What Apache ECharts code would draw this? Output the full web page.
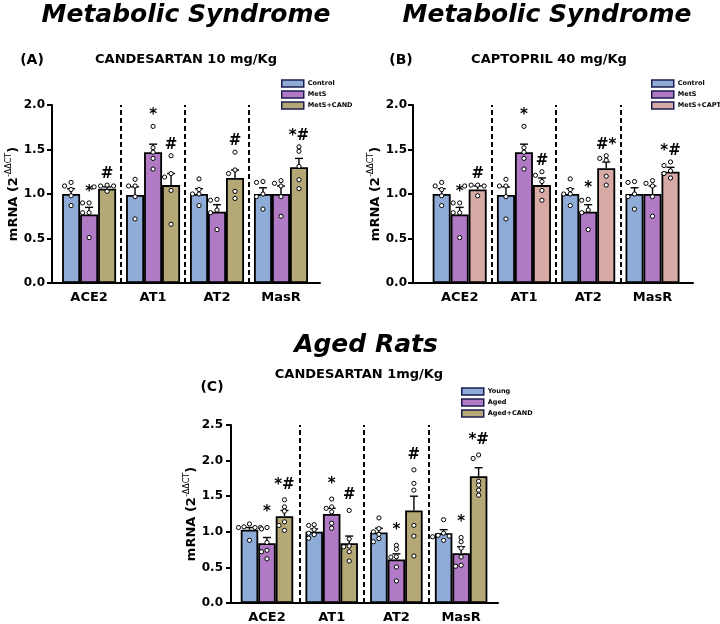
<!DOCTYPE html>
<html><head><meta charset="utf-8">
<script src="https://cdn.jsdelivr.net/npm/echarts@6/dist/echarts.min.js"></script>
<style>html,body{margin:0;padding:0;background:#fff}#c{width:720px;height:624px}</style>
</head><body><div id="c"></div>
<script>
// ---------------- DATA ----------------
const categories = ['ACE2', 'AT1', 'AT2', 'MasR'];

// Panel A / B (Metabolic syndrome)
const msControlMean = [1.00, 0.99, 1.00, 1.00];
const msControlSem  = [0.06, 0.09, 0.06, 0.07];
const msControlPts  = [[1.13, 1.09, 1.05, 0.98, 0.87], [1.09, 1.165, 1.09, 0.97, 0.72], [1.17, 1.05, 1.00, 1.00, 0.87], [1.13, 1.14, 1.00, 0.97, 0.83]];
const msMetSMean = [0.77, 1.47, 0.80, 1.00];
const msMetSSem  = [0.08, 0.09, 0.08, 0.09];
const msMetSPts  = [[0.90, 0.90, 0.79, 0.79, 0.51], [1.76, 1.52, 1.47, 1.40, 1.28], [0.93, 0.94, 0.82, 0.79, 0.60], [1.15, 1.09, 1.12, 0.97, 0.75]];
const aCandMean = [1.06, 1.10, 1.18, 1.30];
const aCandSem  = [0.02, 0.13, 0.09, 0.10];
const aCandPts  = [[1.10, 1.09, 1.09, 1.08, 1.03], [1.43, 1.23, 1.19, 1.04, 0.66], [1.47, 1.27, 1.23, 1.03, 0.95], [1.53, 1.48, 1.31, 1.16, 1.06]];
const bCaptMean = [1.05, 1.10, 1.29, 1.25];
const bCaptSem  = [0.04, 0.08, 0.07, 0.05];
const bCaptPts  = [[1.10, 1.10, 1.09, 1.09, 0.98], [1.25, 1.21, 1.14, 1.04, 0.93], [1.43, 1.40, 1.38, 1.20, 1.10], [1.36, 1.32, 1.26, 1.23, 1.18]];
const aMetSAnn = ['*', '*', '', ''];
const aCandAnn = ['#', '#', '#', '*#'];
const bMetSAnn = ['*', '*', '*', ''];
const bCaptAnn = ['#', '#', '#*', '*#'];

// Panel C (Aged rats)
const cYoungMean = [1.03, 1.00, 0.99, 0.98];
const cYoungSem  = [0.03, 0.04, 0.06, 0.05];
const cYoungPts  = [[1.11, 1.07, 1.06, 1.06, 1.06, 0.88], [1.10, 1.09, 1.03, 0.98, 0.96, 0.91], [1.195, 1.045, 1.00, 0.965, 0.905, 0.86], [1.17, 0.98, 0.95, 0.94, 0.93, 0.88]];
const cAgedMean = [0.84, 1.25, 0.61, 0.70];
const cAgedSem  = [0.08, 0.08, 0.08, 0.09];
const cAgedPts  = [[1.06, 1.04, 0.85, 0.74, 0.72, 0.62], [1.46, 1.35, 1.33, 1.28, 1.12, 1.05], [0.81, 0.755, 0.65, 0.645, 0.506, 0.31], [0.92, 0.86, 0.77, 0.647, 0.516, 0.53]];
const cCandMean = [1.22, 0.84, 1.30, 1.78];
const cCandSem  = [0.08, 0.10, 0.20, 0.12];
const cCandPts  = [[1.45, 1.35, 1.29, 1.14, 1.09, 1.02], [1.30, 0.90, 0.80, 0.79, 0.72, 0.59], [1.87, 1.68, 1.585, 1.09, 0.94, 0.66], [2.08, 2.03, 1.71, 1.655, 1.585, 1.514]];
const cAgedAnn = ['*', '*', '*', '*'];
const cCandAnn = ['*#', '#', '#', '*#'];

const yMaxAB = 2.0, yMaxC = 2.5, yStep = 0.5;
const yName = '{a|mRNA (2}{b|-ΔΔCT}{a|)}';

// ---------------- STYLE ----------------
const F = '"DejaVu Sans", sans-serif';
const BLUE = '#8eacd7', PURPLE = '#b07ac4', OLIVE = '#b4a876', PINK = '#d8aaa6';

const panels = [
  { grid: {left: 52, top: 105, width: 268, height: 178}, xMin: -0.58, xMax: 3.61, yMax: yMaxAB,
    nameGap: 29, labelMargin: 7, legend: {left: 281, top: 79}, bw: 18, annOff: 11, step: 6.5,
    groups: [
      {name: 'Control', color: BLUE, mean: msControlMean, sem: msControlSem, pts: msControlPts, ann: null},
      {name: 'MetS', color: PURPLE, mean: msMetSMean, sem: msMetSSem, pts: msMetSPts, ann: aMetSAnn},
      {name: 'MetS+CAND', color: OLIVE, mean: aCandMean, sem: aCandSem, pts: aCandPts, ann: aCandAnn}
    ]},
  { grid: {left: 413, top: 105, width: 280, height: 178}, xMin: -0.726, xMax: 3.63, yMax: yMaxAB,
    nameGap: 17, labelMargin: 6, legend: {left: 651, top: 79}, bw: 18, annOff: 11, step: 6.5,
    groups: [
      {name: 'Control', color: BLUE, mean: msControlMean, sem: msControlSem, pts: msControlPts, ann: null},
      {name: 'MetS', color: PURPLE, mean: msMetSMean, sem: msMetSSem, pts: msMetSPts, ann: bMetSAnn},
      {name: 'MetS+CAPT', color: PINK, mean: bCaptMean, sem: bCaptSem, pts: bCaptPts, ann: bCaptAnn}
    ]},
  { grid: {left: 231, top: 425, width: 267, height: 178}, xMin: -0.556, xMax: 3.57, yMax: yMaxC,
    nameGap: 31, labelMargin: 8, legend: {left: 461, top: 387}, bw: 17.5, annOff: 15, step: 5.5,
    groups: [
      {name: 'Young', color: BLUE, mean: cYoungMean, sem: cYoungSem, pts: cYoungPts, ann: null},
      {name: 'Aged', color: PURPLE, mean: cAgedMean, sem: cAgedSem, pts: cAgedPts, ann: cAgedAnn},
      {name: 'Aged+CAND', color: OLIVE, mean: cCandMean, sem: cCandSem, pts: cCandPts, ann: cCandAnn}
    ]}
];

const MIN_D = 3.6, R = 2.1;

function overlaySeries(g, k, nSer, bw, grp, annOff, step) {
  return {
    type: 'custom', xAxisIndex: g, yAxisIndex: g, z: 10, silent: true, clip: false,
    encode: {x: 0, y: 1},
    data: grp.mean.map((m, i) => [i, m, grp.sem[i]]),
    renderItem: function (params, api) {
      const i = api.value(0), m = api.value(1), s = api.value(2);
      const base = api.coord([i, m]);
      const cx = base[0] + (k - (nSer - 1) / 2) * bw;
      const yTop = api.coord([i, m + s])[1];
      const ch = [];
      ch.push({type: 'line', shape: {x1: cx, y1: base[1], x2: cx, y2: yTop}, style: {stroke: '#000', lineWidth: 1.4}});
      ch.push({type: 'line', shape: {x1: cx - 4, y1: yTop, x2: cx + 4, y2: yTop}, style: {stroke: '#000', lineWidth: 1.4}});
      const ys = grp.pts[i].map(v => api.coord([i, v])[1]);
      const order = ys.map((y, j) => j).sort((a, b) => ys[a] - ys[b]);
      const placed = [];
      const cands = [0, -1, 1, -2, 2, -3, 3];
      order.forEach(j => {
        const y = ys[j];
        for (const c of cands) {
          const x = cx + c * step;
          if (!placed.some(p => Math.hypot(p[0] - x, p[1] - y) < MIN_D)) { placed.push([x, y]); break; }
        }
      });
      placed.forEach(p => ch.push({type: 'circle', shape: {cx: p[0], cy: p[1], r: R},
        style: {fill: '#fff', stroke: '#000', lineWidth: 1}}));
      if (grp.ann && grp.ann[i]) {
        const topY = Math.min(yTop, ...ys);
        ch.push({type: 'text', x: cx, y: topY - annOff,
          style: {text: grp.ann[i], font: 'bold 15px "DejaVu Sans"', fill: '#000',
                  align: 'center', verticalAlign: 'middle', textAlign: 'center', textVerticalAlign: 'middle'}});
      }
      return {type: 'group', children: ch};
    }
  };
}

const grids = [], xAxes = [], yAxes = [], series = [], legends = [];
panels.forEach((p, g) => {
  grids.push(Object.assign({containLabel: false}, p.grid));
  xAxes.push({
    gridIndex: g, type: 'value', min: p.xMin, max: p.xMax,
    axisLine: {show: true, onZero: false, lineStyle: {color: '#000', width: 2}},
    axisTick: {show: false}, splitLine: {show: false},
    axisLabel: {customValues: categories.map((c, i) => i), formatter: v => categories[Math.round(v)],
      margin: 8, color: '#000', fontSize: 13, fontWeight: 'bold', fontFamily: F}
  });
  yAxes.push({
    gridIndex: g, type: 'value', min: 0, max: p.yMax, interval: yStep,
    name: yName, nameLocation: 'middle', nameGap: p.nameGap, nameRotate: 90,
    nameTextStyle: {rich: {
      a: {fontSize: 13, fontWeight: 'bold', fontFamily: F, color: '#000', lineHeight: 15, verticalAlign: 'bottom'},
      b: {fontSize: 8, fontWeight: 'normal', fontFamily: F, color: '#000', lineHeight: 9, verticalAlign: 'top'}
    }},
    axisLine: {show: true, onZero: false, lineStyle: {color: '#000', width: 2}},
    axisTick: {show: true, length: 5, lineStyle: {color: '#000', width: 2}},
    splitLine: {show: false},
    axisLabel: {margin: p.labelMargin, formatter: v => v.toFixed(1), color: '#000', fontSize: 12, fontWeight: 'bold', fontFamily: F}
  });
  const mid = Math.floor(p.groups.length / 2);
  p.groups.forEach((grp, k) => {
    const s = {
      type: 'bar', name: grp.name, xAxisIndex: g, yAxisIndex: g, barWidth: p.bw, barGap: '0%', z: 2,
      data: grp.mean.map((m, i) => [i, m]),
      itemStyle: {color: grp.color, borderColor: '#000', borderWidth: 1.8}
    };
    if (k === mid) {
      s.markLine = {silent: true, symbol: ['none', 'none'], label: {show: false}, animation: false,
        lineStyle: {color: '#000', type: [5, 3], width: 2},
        data: categories.slice(1).map((c, i) => ({xAxis: i + 0.5}))};
    }
    series.push(s);
  });
  p.groups.forEach((grp, k) => series.push(overlaySeries(g, k, p.groups.length, p.bw, grp, p.annOff, p.step)));
  legends.push({
    data: p.groups.map(grp => ({name: grp.name, icon: 'rect'})), orient: 'vertical',
    left: p.legend.left, top: p.legend.top, itemWidth: 22, itemHeight: 7, itemGap: 2, selectedMode: false,
    padding: 0,
    itemStyle: {borderColor: '#1c1c50', borderWidth: 1.5},
    textStyle: {fontSize: 6.5, fontWeight: 'bold', fontFamily: F, color: '#000', lineHeight: 9, padding: [0, 0, 0, -1]}
  });
});

function txt(x, y, text, font) {
  return {type: 'text', x: x, y: y, style: {text: text, font: font, fill: '#000',
    align: 'center', verticalAlign: 'middle', textAlign: 'center', textVerticalAlign: 'middle'}};
}
const TF = 'italic bold 25px "DejaVu Sans"';
const SF = 'bold 13px "DejaVu Sans"';
const LF = 'bold 14px "DejaVu Sans"';

const chart = echarts.init(document.getElementById('c'), null, {renderer: 'canvas'});
chart.setOption({
  animation: false,
  backgroundColor: '#fff',
  grid: grids, xAxis: xAxes, yAxis: yAxes, legend: legends, series: series,
  graphic: {elements: [
    txt(186, 15, 'Metabolic Syndrome', TF),
    txt(547, 15, 'Metabolic Syndrome', TF),
    txt(366, 345, 'Aged Rats', TF),
    txt(186, 60, 'CANDESARTAN 10 mg/Kg', SF),
    txt(549, 60, 'CAPTOPRIL 40 mg/Kg', SF),
    txt(359, 375, 'CANDESARTAN 1mg/Kg', SF),
    txt(32, 60, '(A)', LF),
    txt(401, 60, '(B)', LF),
    txt(212, 387, '(C)', LF)
  ]}
});
</script></body></html>
